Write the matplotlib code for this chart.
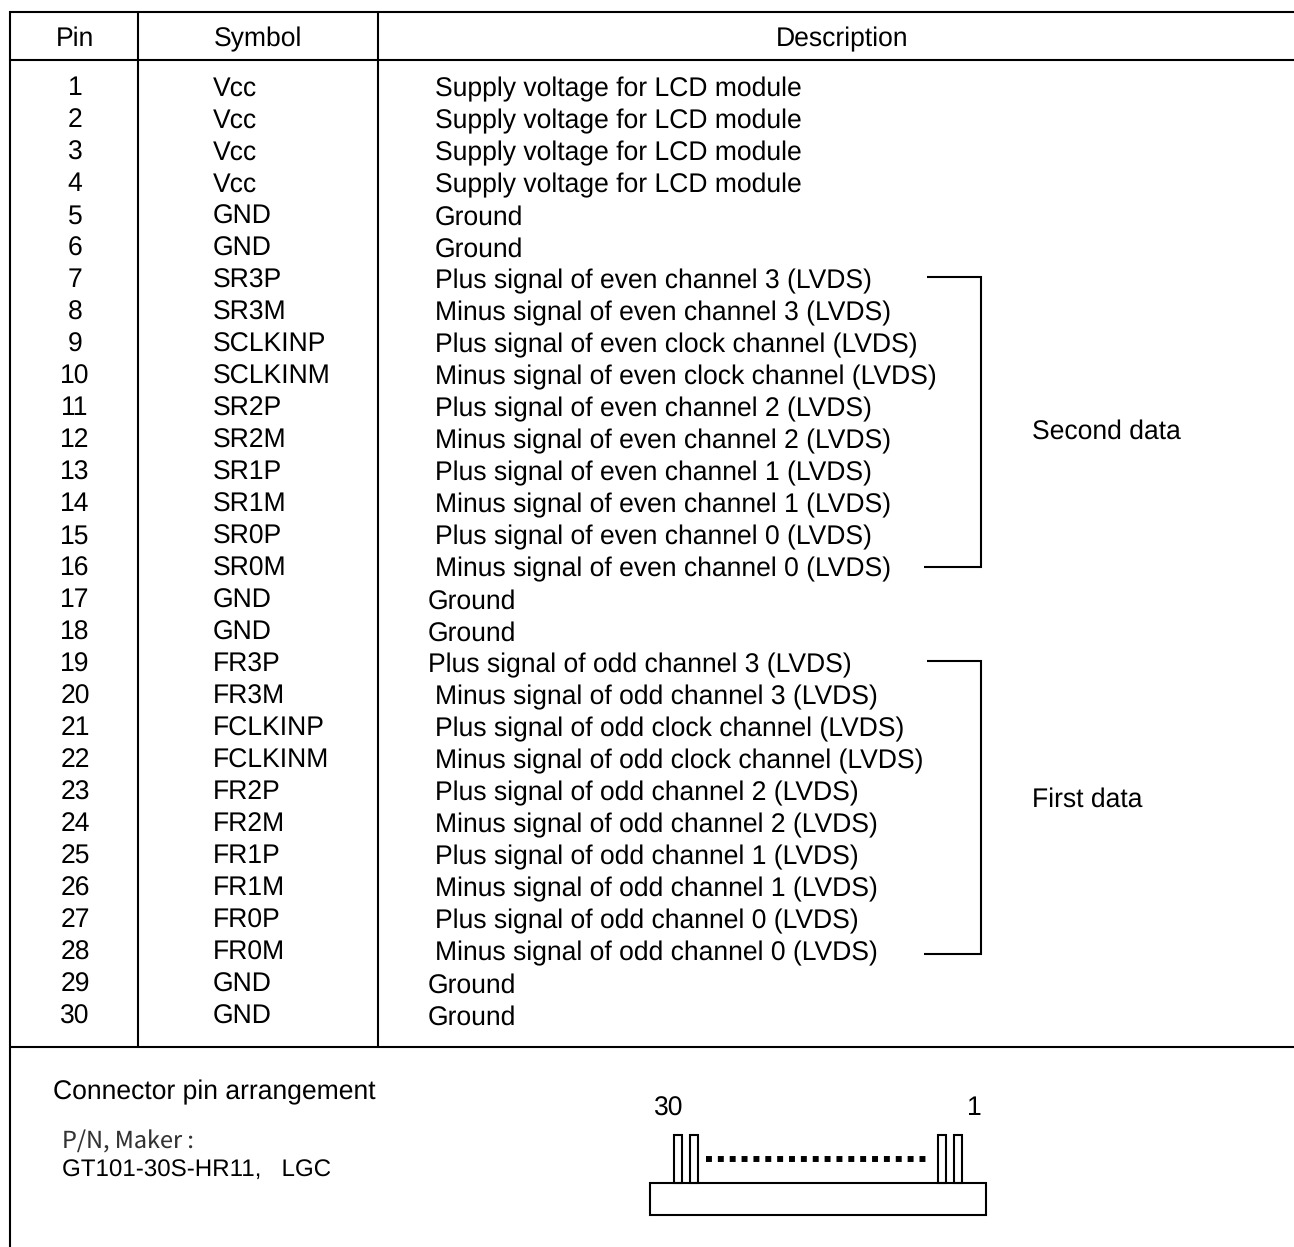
import matplotlib
matplotlib.use("Agg")
import matplotlib.pyplot as plt
from matplotlib.patches import Rectangle

plt.rcParams['font.family'] = ['Liberation Sans', 'DejaVu Sans']
plt.rcParams['text.hinting'] = 'no_hinting'

symbols = ["Vcc", "Vcc", "Vcc", "Vcc", "GND", "GND",
           "SR3P", "SR3M", "SCLKINP", "SCLKINM", "SR2P", "SR2M", "SR1P", "SR1M", "SR0P", "SR0M",
           "GND", "GND",
           "FR3P", "FR3M", "FCLKINP", "FCLKINM", "FR2P", "FR2M", "FR1P", "FR1M", "FR0P", "FR0M",
           "GND", "GND"]
descriptions = ["Supply voltage for LCD module"] * 4 + ["Ground"] * 2 + [
    "Plus signal of even channel 3 (LVDS)",
    "Minus signal of even channel 3 (LVDS)",
    "Plus signal of even clock channel (LVDS)",
    "Minus signal of even clock channel (LVDS)",
    "Plus signal of even channel 2 (LVDS)",
    "Minus signal of even channel 2 (LVDS)",
    "Plus signal of even channel 1 (LVDS)",
    "Minus signal of even channel 1 (LVDS)",
    "Plus signal of even channel 0 (LVDS)",
    "Minus signal of even channel 0 (LVDS)",
    "Ground",
    "Ground",
    "Plus signal of odd channel 3 (LVDS)",
    "Minus signal of odd channel 3 (LVDS)",
    "Plus signal of odd clock channel (LVDS)",
    "Minus signal of odd clock channel (LVDS)",
    "Plus signal of odd channel 2 (LVDS)",
    "Minus signal of odd channel 2 (LVDS)",
    "Plus signal of odd channel 1 (LVDS)",
    "Minus signal of odd channel 1 (LVDS)",
    "Plus signal of odd channel 0 (LVDS)",
    "Minus signal of odd channel 0 (LVDS)",
    "Ground",
    "Ground"]
# the source table has a few descriptions set further left
shifted_left = [17, 18, 19, 29, 30]

FS = 19.1
LW = 1.5

fig = plt.figure(figsize=(12.94, 12.47), dpi=100)
ax = fig.add_axes([0, 0, 1, 1])
ax.set_xlim(0, 1294)
ax.set_ylim(1247, 0)
ax.axis('off')


def line(xs, ys, lw=LW):
    ax.plot(xs, ys, color='black', lw=lw, solid_capstyle='butt', solid_joinstyle='miter')


# table frame
line([9, 1294], [11.5, 11.5])
line([9, 1294], [59.5, 59.5])
line([9, 1294], [1047, 1047])
line([9.5, 9.5], [11, 1247])
line([138, 138], [11, 1047])
line([378, 378], [11, 1047])

# header
ax.text(75, 46.4, "Pin", fontsize=FS, ha='center', va='baseline')
ax.text(258, 46.4, "Symbol", fontsize=FS, ha='center', va='baseline')
ax.text(842.5, 46.4, "Description", fontsize=FS, ha='center', va='baseline')

# rows
for i, (sym, desc) in enumerate(zip(symbols, descriptions)):
    pin = i + 1
    y = 95.4 + 32 * i
    ax.text(75, y, str(pin), fontsize=FS, ha='center', va='baseline')
    ax.text(213, y, sym, fontsize=FS, ha='left', va='baseline')
    x = 428 if pin in shifted_left else 435
    ax.text(x, y + 1, desc, fontsize=FS, ha='left', va='baseline')

# brackets
line([927, 981, 981, 924], [277, 277, 567, 567])
line([927, 981, 981, 924], [661, 661, 954, 954])
ax.text(1032, 438.4, "Second data", fontsize=FS, ha='left', va='baseline')
ax.text(1032, 806.4, "First data", fontsize=FS, ha='left', va='baseline')

# connector note
ax.text(53, 1099.4, "Connector pin arrangement", fontsize=FS, ha='left', va='baseline')
ax.text(62, 1148.6, "P/N, Maker :", fontsize=16.9, family='Noto Sans CJK KR', weight='light',
        color='#333333', ha='left', va='baseline')
ax.text(62, 1176, "GT101-30S-HR11,   LGC", fontsize=17.4, ha='left', va='baseline')

# connector drawing
ax.text(654, 1115.4, "30", fontsize=FS, ha='left', va='baseline')
ax.text(967, 1115.4, "1", fontsize=FS, ha='left', va='baseline')
ax.add_patch(Rectangle((650, 1183), 336, 32, fill=False, ec='black', lw=LW))
for px in [674, 689.5, 937.5, 953.5]:
    ax.add_patch(Rectangle((px, 1134.5), 8, 48.5, fill=False, ec='black', lw=LW))
ax.plot([706, 925.5], [1159, 1159], color='black', lw=4.27, linestyle=(0, (1, 1)),
        dash_capstyle='butt')

fig.savefig("out.png", dpi=100)
